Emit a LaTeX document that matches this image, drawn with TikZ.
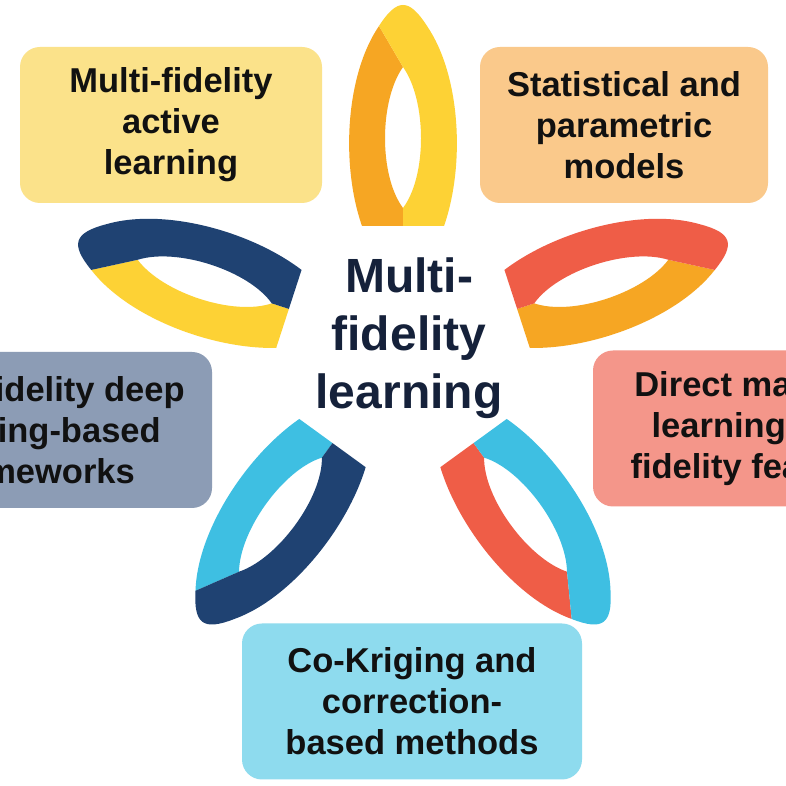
\documentclass[tikz,border=0pt]{standalone}
\usepackage{fontspec}
\setmainfont{Liberation Sans}
\definecolor{cOrange}{HTML}{F6A623}
\definecolor{cYellow}{HTML}{FDD235}
\definecolor{cRed}{HTML}{EF5D47}
\definecolor{cCyan}{HTML}{3EBFE2}
\definecolor{cNavy}{HTML}{1F4272}
\definecolor{bYellow}{HTML}{FBE28A}
\definecolor{bPeach}{HTML}{FAC98B}
\definecolor{bSlate}{HTML}{8C9CB5}
\definecolor{bPink}{HTML}{F4968A}
\definecolor{bSky}{HTML}{8EDBEE}
\definecolor{boxtext}{HTML}{111111}
\definecolor{hubtext}{HTML}{15213A}
\newcommand\boxfont{\fontsize{34.5}{41}\selectfont\bfseries}
\newcommand\hubfont{\fontsize{48}{58}\selectfont\bfseries}
% #1 angle, #2 mirror, #3 colour of band covering the outer end, #4 other band
\newcommand\drawpetal[4]{%
  \begin{scope}[shift={(403,440)}, rotate=#1, xshift=120pt, yscale=#2]
    \fill[#4] (0,0) -- (18,0) .. controls (50,-24) and (125,-24) .. (159,0)
      -- (200,-24) .. controls (150,-58) and (60,-62) .. (0,-41) -- cycle;
    \fill[#3] (0,0) -- (0,41) .. controls (60,62) and (150,58) .. (200,24)
      .. controls (228,6) and (228,-6) .. (200,-24) -- (159,0)
      .. controls (125,24) and (50,24) .. (18,0) -- cycle;
  \end{scope}}
\tikzset{
  box/.style={rounded corners=20pt, inner sep=0pt, align=center,
    text=boxtext, font=\boxfont, minimum height=156pt},
  hub/.style={inner sep=0pt, align=center, text=hubtext, font=\hubfont}
}
\begin{document}
\begin{tikzpicture}[x=1pt,y=1pt]
  \useasboundingbox (0,0) rectangle (786,786);
  \clip (0,0) rectangle (786,786);
  \fill[white] (0,0) rectangle (786,786);
  % petals
  \drawpetal{90}{-1}{cYellow}{cOrange}
  \drawpetal{18}{1}{cRed}{cOrange}
  \drawpetal{-54}{1}{cCyan}{cRed}
  \drawpetal{-126}{1}{cNavy}{cCyan}
  \drawpetal{162}{-1}{cNavy}{cYellow}
  % boxes
  \node[box, fill=bYellow, minimum width=302pt] (active) at (171,661)
    {Multi-fidelity\\active\\learning};
  \node[box, fill=bPeach, minimum width=288pt] (stat) at (624,661)
    {Statistical and\\parametric\\models};
  \node[box, fill=bSlate, minimum width=348pt] (deep) at (38,356)
    {Multi-fidelity deep\\learning-based\\frameworks};
  \node[box, fill=bPink, minimum width=330pt] (direct) at (758,357.5)
    {Direct machine\\learning with\\fidelity features};
  \node[box, fill=bSky, minimum width=340pt] (kriging) at (412,84.5)
    {Co-Kriging and\\correction-\\based methods};
  % centre
  \node[hub] (hubtitle) at (409,447.5) {Multi-\\fidelity\\learning};
\end{tikzpicture}
\end{document}
